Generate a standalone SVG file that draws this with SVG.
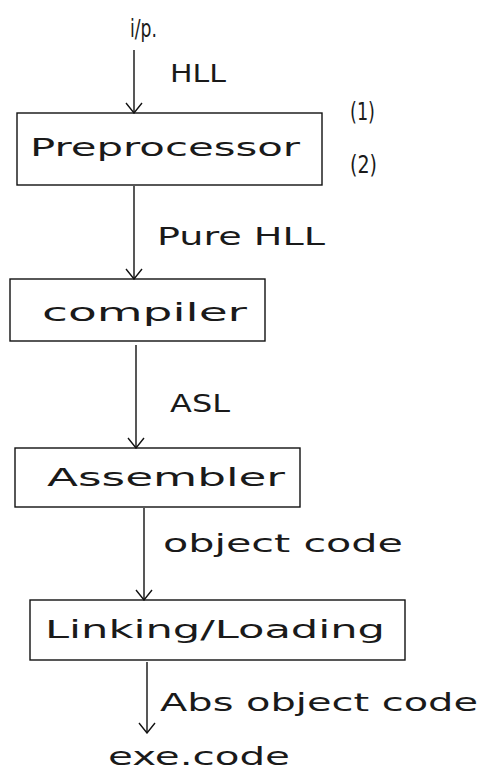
<svg xmlns="http://www.w3.org/2000/svg" width="480" height="782" viewBox="0 0 480 782">
<style>
text{font-family:"DejaVu Sans","Liberation Sans",sans-serif;font-size:24px;fill:#1a1a1a;}
.box{fill:none;stroke:#111;stroke-width:1.4;}
.edge{stroke:#111;stroke-width:1.4;fill:none;marker-end:url(#v);}
</style>
<defs>
<marker id="v" viewBox="0 0 20 20" refX="19" refY="10" markerWidth="20" markerHeight="20" markerUnits="userSpaceOnUse" orient="auto">
<path d="M9,2 L19,10 L9,18" fill="none" stroke="#111" stroke-width="1.4"/>
</marker>
</defs>
<rect width="480" height="782" fill="#fff"/>
<g id="connectors">
<line class="edge" x1="134" y1="50" x2="134" y2="113"/>
<line class="edge" x1="134" y1="186" x2="134" y2="279"/>
<line class="edge" x1="136" y1="345" x2="136" y2="448"/>
<line class="edge" x1="144" y1="508" x2="144" y2="600"/>
<line class="edge" x1="147" y1="662" x2="147" y2="733"/>
</g>
<g id="input"><text x="130" y="37" textLength="27" lengthAdjust="spacingAndGlyphs">i/p.</text></g>
<g id="label-hll"><text x="170" y="82" textLength="56" lengthAdjust="spacingAndGlyphs">HLL</text></g>
<g id="preprocessor">
<rect class="box" x="17" y="113" width="305" height="72"/>
<text x="30" y="156" textLength="270" lengthAdjust="spacingAndGlyphs">Preprocessor</text>
</g>
<g id="note1"><text x="350" y="120" textLength="25" lengthAdjust="spacingAndGlyphs">(1)</text></g>
<g id="note2"><text x="350" y="173" textLength="27" lengthAdjust="spacingAndGlyphs">(2)</text></g>
<g id="label-pure"><text x="157" y="245" textLength="168" lengthAdjust="spacingAndGlyphs">Pure HLL</text></g>
<g id="compiler">
<rect class="box" x="10" y="279" width="255" height="62"/>
<text x="42" y="321" textLength="205" lengthAdjust="spacingAndGlyphs">compiler</text>
</g>
<g id="label-asl"><text x="170" y="412" textLength="60" lengthAdjust="spacingAndGlyphs">ASL</text></g>
<g id="assembler">
<rect class="box" x="15" y="448" width="285" height="59"/>
<text x="47" y="486" textLength="238" lengthAdjust="spacingAndGlyphs">Assembler</text>
</g>
<g id="label-object"><text x="163" y="552" textLength="240" lengthAdjust="spacingAndGlyphs">object code</text></g>
<g id="linking">
<rect class="box" x="30" y="600" width="375" height="60"/>
<text x="45" y="638" textLength="340" lengthAdjust="spacingAndGlyphs">Linking/Loading</text>
</g>
<g id="label-abs"><text x="160" y="711" textLength="318" lengthAdjust="spacingAndGlyphs">Abs object code</text></g>
<g id="output"><text x="108" y="765" textLength="182" lengthAdjust="spacingAndGlyphs">exe.code</text></g>
</svg>
